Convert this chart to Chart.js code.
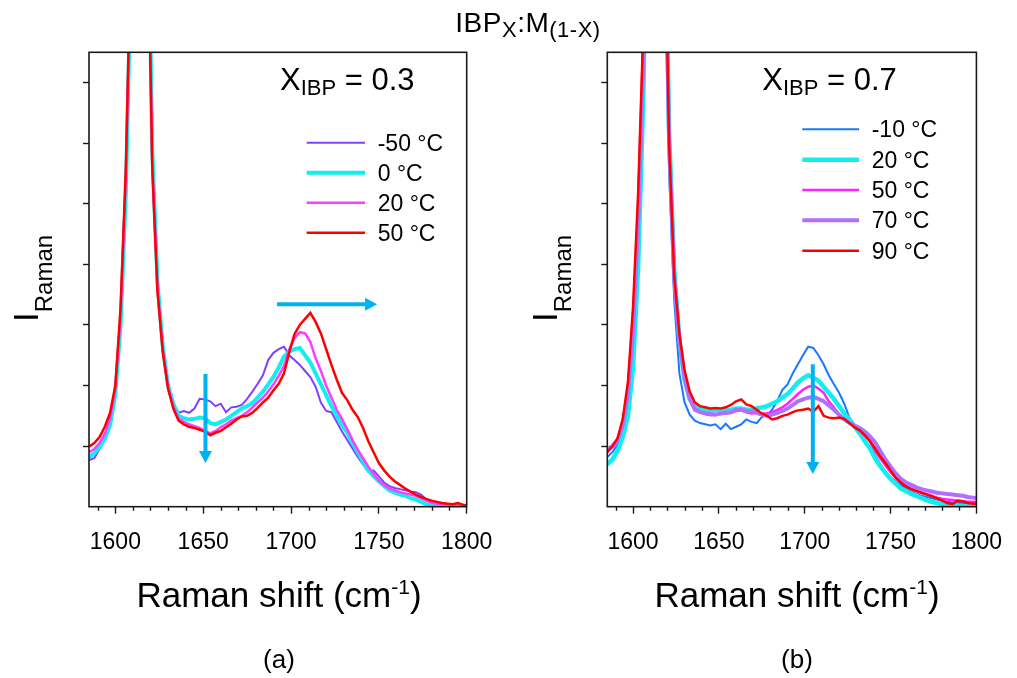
<!DOCTYPE html>
<html>
<head>
<meta charset="utf-8">
<title>IBP Raman spectra</title>
<script src="https://cdn.jsdelivr.net/npm/chart.js@4.4.0/dist/chart.umd.min.js"></script>
<style>
  body { margin: 0; background: #fff; }
  #fig { position: relative; width: 1017px; height: 678px; overflow: hidden;
         font-family: "Liberation Sans", Arial, sans-serif; color: #000; }
  canvas { position: absolute; top: 0; }
  .t { position: absolute; white-space: nowrap; line-height: 1; }
  .sub { position: relative; }
  .ytitle { transform: rotate(-90deg); transform-origin: 0 0; font-size: 35px; }
  .xtitle { font-size: 35px; text-align: center; top: 577px; }
  .plabel { font-size: 26px; text-align: center; top: 646px; }
</style>
</head>
<body>
<div id="fig">
  <canvas id="chartA" width="520" height="678" style="left:0"></canvas>
  <canvas id="chartB" width="497" height="678" style="left:520px"></canvas>

  <div class="t" style="left:0;width:1056px;text-align:center;top:9px;font-size:28px;letter-spacing:0.5px">IBP<span class="sub" style="font-size:22px;top:5px">X</span>:M<span class="sub" style="font-size:22px;top:5px">(1-X)</span></div>

  <div class="t ytitle" style="left:8px;top:322px">I<span class="sub" style="font-size:24px;top:14px">Raman</span></div>
  <div class="t ytitle" style="left:527px;top:322px">I<span class="sub" style="font-size:24px;top:14px">Raman</span></div>

  <div class="t xtitle" style="left:0;width:558px">Raman shift (cm<span class="sub" style="font-size:21px;top:-13px">-1</span>)</div>
  <div class="t xtitle" style="left:497px;width:600px">Raman shift (cm<span class="sub" style="font-size:21px;top:-13px">-1</span>)</div>

  <div class="t plabel" style="left:0;width:558px">(a)</div>
  <div class="t plabel" style="left:497px;width:600px">(b)</div>
</div>

<script>
// Raman shift grid (cm-1)
const shift = [1585, 1588, 1591, 1594, 1597, 1600, 1603, 1606, 1609, 1612,
  1615, 1618, 1621, 1624, 1627, 1630, 1633, 1636, 1639, 1642,
  1645, 1648, 1651, 1654, 1657, 1660, 1663, 1666, 1669, 1672,
  1675, 1678, 1681, 1684, 1687, 1690, 1693, 1696, 1699, 1702,
  1705, 1708, 1711, 1714, 1717, 1720, 1723, 1726, 1729, 1732,
  1735, 1738, 1741, 1744, 1747, 1750, 1753, 1756, 1759, 1762,
  1765, 1768, 1771, 1774, 1777, 1780, 1783, 1786, 1789, 1792,
  1795, 1798, 1801];

const xMajor = [1600, 1650, 1700, 1750, 1800];
const xMinor = [1590, 1610, 1620, 1630, 1640, 1660, 1670, 1680, 1690,
  1710, 1720, 1730, 1740, 1760, 1770, 1780, 1790];
const yTicks = [1, 2, 3, 4, 5, 6, 7];

// panel (a): X_IBP = 0.3
const a_m50 = [0.77, 0.8, 0.95, 1.15, 1.4, 1.9, 3.1, 5.4, 9.3, 19,
  21, 11, 5.8, 3.6, 2.6, 2.0, 1.7, 1.55, 1.58, 1.55,
  1.62, 1.78, 1.77, 1.74, 1.66, 1.7, 1.56, 1.64, 1.65, 1.68,
  1.78, 1.9, 2.03, 2.17, 2.42, 2.54, 2.6, 2.64, 2.5, 2.42,
  2.34, 2.24, 2.14, 1.98, 1.72, 1.58, 1.56, 1.4, 1.24, 1.1,
  0.96, 0.82, 0.7, 0.57, 0.6, 0.5, 0.4, 0.34, 0.31, 0.29,
  0.27, 0.25, 0.24, 0.2, 0.12, 0.05, 0.03, 0.02, 0.03, 0.02,
  0.01, 0.01, 0];
const a_0 = [0.82, 0.88, 0.98, 1.12, 1.35, 1.85, 3.0, 5.2, 9.0, 19,
  21, 11.2, 5.9, 3.7, 2.65, 2.0, 1.7, 1.5, 1.46, 1.44,
  1.45, 1.47, 1.46, 1.38, 1.36, 1.4, 1.44, 1.5, 1.56, 1.62,
  1.66, 1.71, 1.8, 1.9, 2.02, 2.14, 2.3, 2.48, 2.56, 2.6,
  2.62, 2.5, 2.38, 2.2, 2.02, 1.84, 1.66, 1.5, 1.35, 1.22,
  1.05, 0.9, 0.74, 0.6, 0.5, 0.42, 0.34, 0.27, 0.23, 0.2,
  0.18, 0.14, 0.12, 0.08, 0.04, 0.02, 0.02, 0.01, 0.02, 0.01,
  0.01, 0.02, 0.01];
const a_20 = [0.9, 0.95, 1.05, 1.2, 1.45, 1.95, 3.15, 5.5, 9.3, 19,
  21, 10.8, 5.7, 3.6, 2.6, 1.98, 1.66, 1.45, 1.4, 1.36,
  1.33, 1.3, 1.25, 1.21, 1.25, 1.31, 1.36, 1.42, 1.46, 1.5,
  1.56, 1.64, 1.72, 1.8, 1.9, 2.02, 2.16, 2.32, 2.6, 2.78,
  2.88, 2.86, 2.72, 2.45, 2.24, 2.0, 1.8, 1.6, 1.45, 1.28,
  1.1, 0.94, 0.8, 0.66, 0.54, 0.43, 0.36, 0.3, 0.27, 0.24,
  0.22, 0.2, 0.18, 0.14, 0.1, 0.07, 0.05, 0.05, 0.04, 0.03,
  0.02, 0.02, 0.02];
const a_50 = [0.99, 1.05, 1.15, 1.32, 1.55, 2.0, 3.3, 5.6, 9.5, 19,
  21, 10.5, 5.6, 3.55, 2.55, 1.95, 1.62, 1.42, 1.36, 1.32,
  1.3, 1.27, 1.24, 1.18, 1.22, 1.25, 1.31, 1.37, 1.44, 1.49,
  1.5, 1.55, 1.63, 1.72, 1.8, 1.92, 2.03, 2.2, 2.55, 2.85,
  3.0, 3.1, 3.2, 3.05, 2.86, 2.6, 2.34, 2.1, 1.88, 1.76,
  1.6, 1.48, 1.3, 1.08, 0.9, 0.72, 0.6, 0.5, 0.42, 0.36,
  0.3, 0.25, 0.2, 0.16, 0.13, 0.1, 0.08, 0.06, 0.05, 0.04,
  0.06, 0.03, 0.02];

// panel (b): X_IBP = 0.7
const b_m10 = [0.82, 0.9, 1.02, 1.28, 1.75, 2.7, 4.4, 7.0, 12, 22,
  22, 10, 5.5, 3.4, 2.2, 1.72, 1.52, 1.42, 1.38, 1.36,
  1.34, 1.36, 1.28, 1.37, 1.28, 1.32, 1.36, 1.44, 1.4, 1.38,
  1.48, 1.51, 1.6, 1.75, 1.93, 2.02, 2.2, 2.35, 2.5, 2.64,
  2.62, 2.5, 2.35, 2.17, 2.02, 1.88, 1.7, 1.47, 1.35, 1.27,
  1.18, 1.1, 0.86, 0.7, 0.57, 0.48, 0.42, 0.36, 0.3, 0.25,
  0.21, 0.18, 0.16, 0.14, 0.12, 0.1, 0.08, 0.07, 0.06, 0.06,
  0.05, 0.05, 0.05];
const b_20 = [0.7, 0.78, 0.92, 1.15, 1.5, 2.3, 4.0, 6.8, 12, 22,
  22, 11, 6.2, 3.9, 2.75, 2.1, 1.78, 1.66, 1.62, 1.6,
  1.59, 1.6, 1.58, 1.59, 1.6, 1.62, 1.62, 1.6, 1.6, 1.62,
  1.64, 1.66, 1.7, 1.74, 1.8, 1.86, 1.95, 2.05, 2.12, 2.17,
  2.13, 2.08, 1.98, 1.88, 1.78, 1.66, 1.54, 1.44, 1.32, 1.21,
  1.08, 0.96, 0.8, 0.67, 0.56, 0.46, 0.38, 0.3, 0.26, 0.21,
  0.18, 0.14, 0.11, 0.08, 0.06, 0.04, 0.03, 0.02, 0.02, 0.01,
  0, 0.02, 0.02];
const b_50 = [0.92, 0.98, 1.08, 1.35, 1.85, 2.9, 4.7, 7.4, 12.5, 22,
  22, 10.6, 6.0, 3.75, 2.75, 2.1, 1.78, 1.62, 1.57, 1.53,
  1.51, 1.52, 1.53, 1.54, 1.55, 1.58, 1.59, 1.56, 1.54, 1.55,
  1.54, 1.54, 1.56, 1.6, 1.64, 1.7, 1.78, 1.86, 1.93, 1.98,
  2.0, 1.95, 1.88, 1.74, 1.64, 1.52, 1.44, 1.38, 1.32, 1.26,
  1.17, 1.08, 0.93, 0.8, 0.68, 0.57, 0.47, 0.4, 0.35, 0.3,
  0.26, 0.23, 0.21, 0.18, 0.15, 0.13, 0.12, 0.11, 0.1, 0.09,
  0.08, 0.08, 0.08];
const b_70 = [0.95, 1.0, 1.1, 1.35, 1.85, 2.9, 4.7, 7.4, 12.5, 22,
  22, 10.6, 6.0, 3.75, 2.75, 2.12, 1.78, 1.6, 1.56, 1.54,
  1.53, 1.52, 1.54, 1.55, 1.56, 1.6, 1.6, 1.58, 1.57, 1.55,
  1.52, 1.5, 1.52, 1.55, 1.58, 1.62, 1.68, 1.74, 1.77, 1.8,
  1.81, 1.78, 1.74, 1.67, 1.6, 1.52, 1.44, 1.38, 1.34, 1.3,
  1.24, 1.16, 1.06, 0.92, 0.78, 0.66, 0.55, 0.46, 0.4, 0.36,
  0.32, 0.29, 0.27, 0.25, 0.23, 0.22, 0.21, 0.2, 0.19, 0.18,
  0.16, 0.15, 0.14];
const b_90 = [0.9, 1.0, 1.13, 1.45, 2.05, 3.3, 5.2, 7.9, 13, 22,
  22, 10.5, 6.0, 3.8, 2.85, 2.25, 1.9, 1.72, 1.66, 1.64,
  1.62, 1.63, 1.62, 1.64, 1.68, 1.74, 1.77, 1.69, 1.66, 1.6,
  1.54, 1.5, 1.44, 1.46, 1.5, 1.52, 1.56, 1.59, 1.6, 1.62,
  1.57, 1.66, 1.5, 1.47, 1.46, 1.47, 1.45, 1.38, 1.31, 1.26,
  1.18, 1.08, 0.96, 0.83, 0.72, 0.6, 0.48, 0.4, 0.33, 0.29,
  0.26, 0.23, 0.2, 0.17, 0.14, 0.1, 0.06, 0.04, 0.1, 0.09,
  0.06, 0.05, 0.05];

const FONT = '"Liberation Sans", Arial, sans-serif';
const FRAME = '#1a1a1a';
const ARROW = '#00b0f0';

// frame, minor ticks, composition tag, legend and arrows
const panelDecor = {
  id: 'panelDecor',
  afterDatasetsDraw(chart, args, opts) {
    const { ctx, chartArea: a, scales: { x, y } } = chart;
    ctx.save();

    ctx.strokeStyle = FRAME;
    ctx.lineWidth = 1.6;
    ctx.strokeRect(a.left, a.top, a.right - a.left, a.bottom - a.top);

    ctx.lineWidth = 1.4;
    ctx.beginPath();
    xMinor.forEach(v => {
      const px = Math.round(x.getPixelForValue(v)) + 0.5;
      ctx.moveTo(px, a.bottom);
      ctx.lineTo(px, a.bottom + 4);
    });
    ctx.stroke();

    // arrows
    ctx.strokeStyle = ARROW;
    ctx.fillStyle = ARROW;
    ctx.lineWidth = 4;
    opts.arrows.forEach(ar => {
      const x0 = x.getPixelForValue(ar.from[0]), y0 = y.getPixelForValue(ar.from[1]);
      const x1 = x.getPixelForValue(ar.to[0]), y1 = y.getPixelForValue(ar.to[1]);
      const ang = Math.atan2(y1 - y0, x1 - x0);
      const hl = 12, hw = 6.5;
      const bx = x1 - hl * Math.cos(ang), by = y1 - hl * Math.sin(ang);
      ctx.beginPath();
      ctx.moveTo(x0, y0);
      ctx.lineTo(bx, by);
      ctx.stroke();
      ctx.beginPath();
      ctx.moveTo(x1, y1);
      ctx.lineTo(bx + hw * Math.sin(ang), by - hw * Math.cos(ang));
      ctx.lineTo(bx - hw * Math.sin(ang), by + hw * Math.cos(ang));
      ctx.closePath();
      ctx.fill();
    });

    // X_IBP tag
    ctx.fillStyle = '#000';
    ctx.textBaseline = 'alphabetic';
    ctx.textAlign = 'left';
    let tx = a.left + opts.tag.dx;
    const ty = a.top + opts.tag.dy;
    ctx.font = '31px ' + FONT;
    ctx.fillText('X', tx, ty);
    tx += ctx.measureText('X').width;
    ctx.font = '22px ' + FONT;
    ctx.fillText('IBP', tx, ty + 5);
    tx += ctx.measureText('IBP').width;
    ctx.font = '31px ' + FONT;
    ctx.fillText(' = ' + opts.tag.value, tx, ty);

    // legend
    const lg = opts.legend;
    ctx.font = '23px ' + FONT;
    chart.data.datasets.forEach((ds, i) => {
      const ry = a.top + lg.dy + i * lg.step;
      ctx.strokeStyle = ds.borderColor;
      ctx.lineWidth = ds.borderWidth;
      ctx.beginPath();
      ctx.moveTo(a.left + lg.x0, ry);
      ctx.lineTo(a.left + lg.x1, ry);
      ctx.stroke();
      ctx.fillStyle = '#000';
      ctx.fillText(ds.label, a.left + lg.tx, ry + 8);
    });

    ctx.restore();
  }
};

function makePanel(id, series, pad, decor) {
  return new Chart(document.getElementById(id), {
    type: 'line',
    data: {
      datasets: series.map(s => ({
        label: s.label,
        data: shift.map((v, i) => ({ x: v, y: s.data[i] })),
        borderColor: s.color,
        borderWidth: s.width,
        order: s.order,
        pointRadius: 0,
        tension: 0,
        fill: false,
        clip: 0
      }))
    },
    options: {
      responsive: false,
      animation: false,
      events: [],
      layout: { padding: pad },
      plugins: {
        legend: { display: false },
        tooltip: { enabled: false },
        panelDecor: decor
      },
      scales: {
        x: {
          type: 'linear',
          min: 1585,
          max: 1800,
          afterBuildTicks: s => { s.ticks = xMajor.map(v => ({ value: v })); },
          afterFit: s => { s.height = 171.3; },
          border: { display: false },
          grid: { drawOnChartArea: false, drawTicks: true, tickLength: 7, color: FRAME, tickWidth: 1.4 },
          ticks: {
            color: '#000', font: { family: FONT, size: 23 }, padding: 15,
            maxRotation: 0, autoSkip: false,
            callback: v => String(v)
          }
        },
        y: {
          type: 'linear',
          min: 0,
          max: 7.5,
          afterBuildTicks: s => { s.ticks = yTicks.map(v => ({ value: v })); },
          afterFit: s => { s.width = 20; },
          border: { display: false },
          grid: { drawOnChartArea: false, drawTicks: true, tickLength: 6, color: FRAME, tickWidth: 1.4 },
          ticks: { display: false }
        }
      }
    },
    plugins: [panelDecor]
  });
}

makePanel('chartA', [
  { label: '-50 °C', data: a_m50, color: '#8040ff', width: 2, order: 4 },
  { label: '0 °C', data: a_0, color: '#11eeee', width: 4, order: 3 },
  { label: '20 °C', data: a_20, color: '#ff3cff', width: 2.5, order: 2 },
  { label: '50 °C', data: a_50, color: '#ff0000', width: 2.5, order: 1 }
], { left: 69, top: 52.3, right: 53.3, bottom: 0 }, {
  tag: { dx: 191, dy: 37.7, value: '0.3' },
  legend: { x0: 217.7, x1: 276, tx: 288.7, dy: 90.4, step: 30 },
  arrows: [
    { from: [1651.3, 2.19], to: [1651.3, 0.72] },
    { from: [1692, 3.34], to: [1749, 3.34] }
  ]
});

makePanel('chartB', [
  { label: '-10 °C', data: b_m10, color: '#1a78ff', width: 2, order: 5 },
  { label: '20 °C', data: b_20, color: '#11eeee', width: 4.5, order: 4 },
  { label: '50 °C', data: b_50, color: '#ff22ff', width: 2.5, order: 3 },
  { label: '70 °C', data: b_70, color: '#b070ff', width: 4, order: 2 },
  { label: '90 °C', data: b_90, color: '#ff0000', width: 2.5, order: 1 }
], { left: 67.3, top: 52.3, right: 31.3, bottom: 0 }, {
  tag: { dx: 155, dy: 37.7, value: '0.7' },
  legend: { x0: 195, x1: 251.7, tx: 264.4, dy: 77, step: 30.35 },
  arrows: [
    { from: [1704.7, 2.35], to: [1704.7, 0.54] }
  ]
});
</script>
</body>
</html>
